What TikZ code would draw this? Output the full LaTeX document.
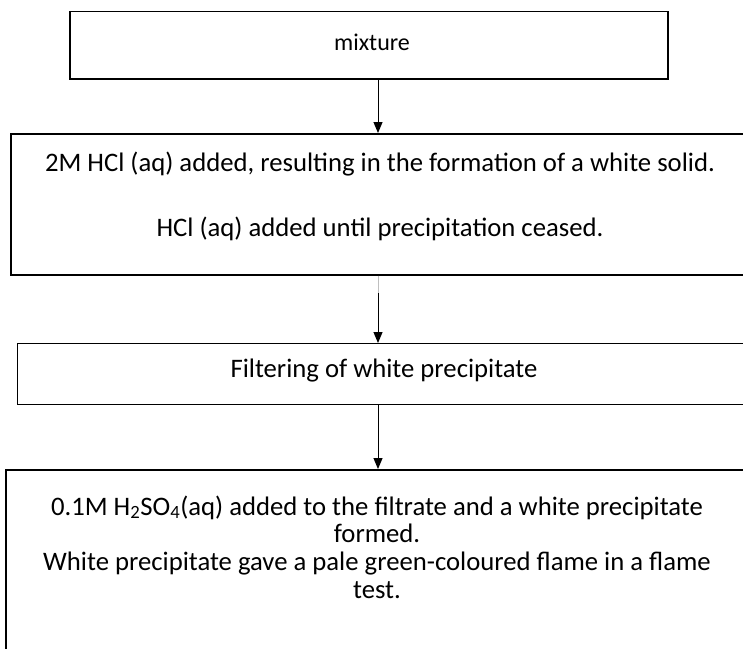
\documentclass[tikz,border=0pt]{standalone}
\usepackage{fontspec}
\setmainfont{Carlito}
\usetikzlibrary{arrows.meta}
\begin{document}
\begin{tikzpicture}[x=1pt,y=1pt,
  boxstyle/.style={draw=black,line width=1.6pt,rectangle,inner sep=0pt,anchor=north west},
  txt/.style={inner sep=0pt,anchor=base,font=\fontsize{26.7}{29}\selectfont},
  smalltxt/.style={inner sep=0pt,anchor=base,font=\fontsize{24}{28}\selectfont},
  arr/.style={line width=1pt,-{Triangle[width=9pt,length=11pt]}}]
\useasboundingbox (0,0) rectangle (743,-648);
\clip (0,0) rectangle (743,-648);
% boxes
\node[boxstyle,minimum width=598pt,minimum height=67.5pt] (b1) at (69,-10.5) {};
\node[boxstyle,minimum width=740pt,minimum height=141pt] (b2) at (10,-133) {};
\node[boxstyle,line width=1.3pt,minimum width=733pt,minimum height=61pt] (b3) at (17,-343) {};
\node[boxstyle,minimum width=745pt,minimum height=200pt] (b4) at (5,-469) {};
% texts
\node[smalltxt] (t1) at (372,-50) {mixture};
\node[txt] (t2a) at (380,-171) {2M HCl (aq) added, resulting in the formation of a white solid.};
\node[txt] (t2b) at (380,-236) {HCl (aq) added until precipitation ceased.};
\node[txt] (t3) at (384,-377) {Filtering of white precipitate};
\node[txt] (t4a) at (377,-515) {0.1M H\textsubscript{2}SO\textsubscript{4}(aq) added to the filtrate and a white precipitate};
\node[txt] (t4b) at (377,-542) {formed.};
\node[txt] (t4c) at (377,-570) {White precipitate gave a pale green-coloured flame in a flame};
\node[txt] (t4d) at (377,-598) {test.};
% arrows
\coordinate (ax) at (378,0);
\coordinate (g2) at (378,-293);
\draw[arr] (ax |- b1.south) -- (ax |- b2.north);
\draw[line width=1pt,gray!50] (ax |- b2.south) -- (g2);
\draw[arr] (g2) -- (ax |- b3.north);
\draw[arr] (ax |- b3.south) -- (ax |- b4.north);
\end{tikzpicture}
\end{document}
